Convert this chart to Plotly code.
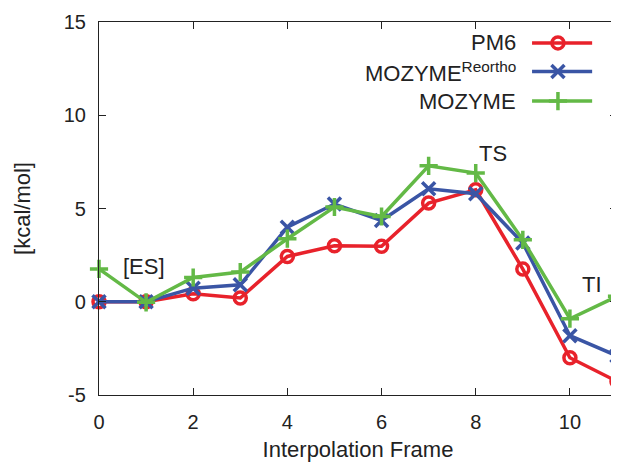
import plotly.graph_objects as go

frames = list(range(12))
pm6 = [0.0, 0.0, 0.43, 0.2, 2.43, 3.0, 2.97, 5.29, 6.0, 1.75, -3.0, -4.27]
mozyme_reortho = [0.0, 0.0, 0.73, 0.91, 4.0, 5.24, 4.36, 6.06, 5.79, 3.15, -1.82, -2.9]
mozyme = [1.76, -0.03, 1.3, 1.59, 3.38, 5.08, 4.57, 7.29, 6.9, 3.32, -0.91, 0.29]

series_names = ["PM6", "MOZYME<sup>Reortho</sup>", "MOZYME"]
colors = ["#e8222b", "#3a55a5", "#63b946"]
symbols = ["circle-open", "x-thin-open", "cross-thin-open"]
msizes = [12, 13, 13]

x_ticks = [0, 2, 4, 6, 8, 10]
y_ticks = [-5, 0, 5, 10, 15]
y_ticktext = ["-5", "0", "5", "10", "15"]

labels = ["[ES]", "TS", "TI"]
label_x = [0.96, 8.36, 10.46]
label_y = [1.88, 7.97, 0.91]

FONT = "Liberation Sans, Arial, Helvetica, sans-serif"
TXT = 22

fig = go.Figure()
for name, ys, c, s, ms in zip(series_names, [pm6, mozyme_reortho, mozyme], colors, symbols, msizes):
    fig.add_trace(go.Scatter(
        x=frames, y=ys, mode="lines+markers", name=name,
        line=dict(color=c, width=3.5),
        marker=dict(symbol=s, size=ms, color=c, line=dict(color=c, width=3.5)),
        showlegend=False, cliponaxis=False,
    ))

# custom legend (text to the left of the sample, as in the reference)
leg_y = [0.944, 0.867, 0.788]
for name, c, s, ms, ly in zip(series_names, colors, symbols, msizes, leg_y):
    fig.add_trace(go.Scatter(
        x=[0.836, 0.952], y=[ly, ly], xaxis="x2", yaxis="y2", mode="lines",
        line=dict(color=c, width=3.5), showlegend=False, hoverinfo="skip"))
    fig.add_trace(go.Scatter(
        x=[0.886], y=[ly], xaxis="x2", yaxis="y2", mode="markers",
        marker=dict(symbol=s, size=ms, color=c, line=dict(color=c, width=3.5)),
        showlegend=False, hoverinfo="skip"))
    fig.add_annotation(x=0.808, y=ly, xref="paper", yref="paper", text=name,
                       showarrow=False, xanchor="right", yanchor="middle",
                       font=dict(size=TXT, color="#222", family=FONT))

for t, lx, ly in zip(labels, label_x, label_y):
    fig.add_annotation(x=lx, y=ly, text=t, showarrow=False,
                       font=dict(size=TXT, color="#222", family=FONT))

axis_common = dict(
    showline=True, linecolor="#222", linewidth=1.2, mirror="ticks",
    ticks="inside", ticklen=7, tickcolor="#222", tickwidth=1.2,
    showgrid=False, zeroline=False, automargin=False,
    tickfont=dict(size=20, color="#222", family=FONT),
)

fig.update_layout(
    width=619, height=463,
    margin=dict(l=91, r=10, t=14, b=76),
    paper_bgcolor="white", plot_bgcolor="white",
    font=dict(family=FONT, color="#222"),
    xaxis=dict(range=[0, 11], tickvals=x_ticks, ticklabelstandoff=9,
               title=dict(text="Interpolation Frame", font=dict(size=TXT, family=FONT), standoff=9),
               **axis_common),
    yaxis=dict(range=[-5, 15], tickvals=y_ticks, ticktext=y_ticktext, ticklabelstandoff=8,
               title=dict(text="[kcal/mol]", font=dict(size=TXT, family=FONT), standoff=26),
               **axis_common),
    xaxis2=dict(overlaying="x", range=[0, 1], visible=False, fixedrange=True),
    yaxis2=dict(overlaying="y", range=[0, 1], visible=False, fixedrange=True),
    showlegend=False,
)

fig.write_html("out.html")
